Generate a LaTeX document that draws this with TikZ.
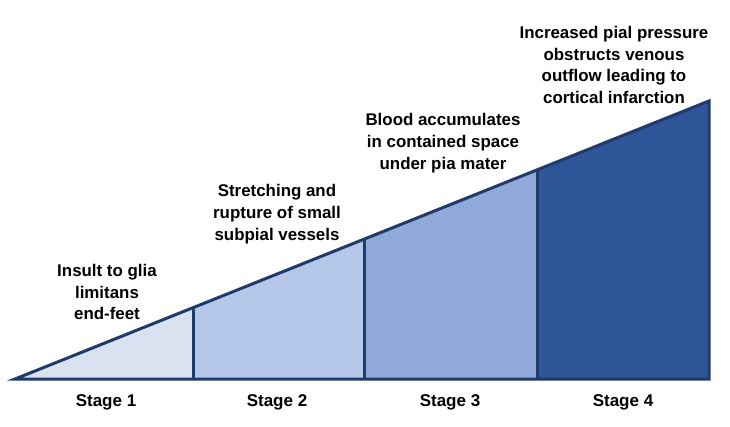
\documentclass[tikz,border=0pt]{standalone}
\usepackage{fontspec}
\setmainfont{Liberation Sans}
\definecolor{edge}{HTML}{1F3A6B}
\definecolor{sA}{HTML}{DAE2F2}
\definecolor{sB}{HTML}{B5C7E8}
\definecolor{sC}{HTML}{8FAAD8}
\definecolor{sD}{HTML}{2E5597}
\tikzset{
  lbl/.style={font=\bfseries\fontsize{16.9}{21.8}\selectfont, align=center, text=black, inner sep=0pt},
  stagelbl/.style={font=\bfseries\fontsize{17}{20}\selectfont, text=black, inner sep=0pt},
  outline/.style={draw=edge, line width=3pt, line join=miter}
}
\begin{document}
\begin{tikzpicture}[x=1pt,y=-1pt]
\useasboundingbox (0,0) rectangle (730,427);
% corner coordinates
\coordinate (tip) at (15,379);
\coordinate (b1) at (193,379);
\coordinate (t1) at (193,307.7);
\coordinate (b2) at (364,379);
\coordinate (t2) at (364,239.2);
\coordinate (b3) at (537,379);
\coordinate (t3) at (537,169.9);
\coordinate (b4) at (709,379);
\coordinate (t4) at (709,101);
% fills
\fill[sA] (tip) -- (t1) -- (b1) -- cycle;
\fill[sB] (b1) -- (t1) -- (t2) -- (b2) -- cycle;
\fill[sC] (b2) -- (t2) -- (t3) -- (b3) -- cycle;
\fill[sD] (b3) -- (t3) -- (t4) -- (b4) -- cycle;
% outline
\draw[outline] (tip) -- (t4) -- (b4) -- cycle;
\draw[outline] (b1) -- (t1);
\draw[outline] (b2) -- (t2);
\draw[outline] (b3) -- (t3);
% labels
\node[lbl] (l1) at (107,292) {Insult to glia\\limitans\\end-feet};
\node[lbl] (l2) at (277,214) {Stretching and\\rupture of small\\subpial vessels};
\node[lbl] (l3) at (443,143) {Blood accumulates\\in contained space\\under pia mater};
\node[lbl] (l4) at (614,65) {Increased pial pressure\\obstructs venous\\outflow leading to\\cortical infarction};
% stage labels
\node[stagelbl] (s1) at (106,402) {Stage 1};
\node[stagelbl] (s2) at (277,402) {Stage 2};
\node[stagelbl] (s3) at (450,402) {Stage 3};
\node[stagelbl] (s4) at (623,402) {Stage 4};
\end{tikzpicture}
\end{document}
